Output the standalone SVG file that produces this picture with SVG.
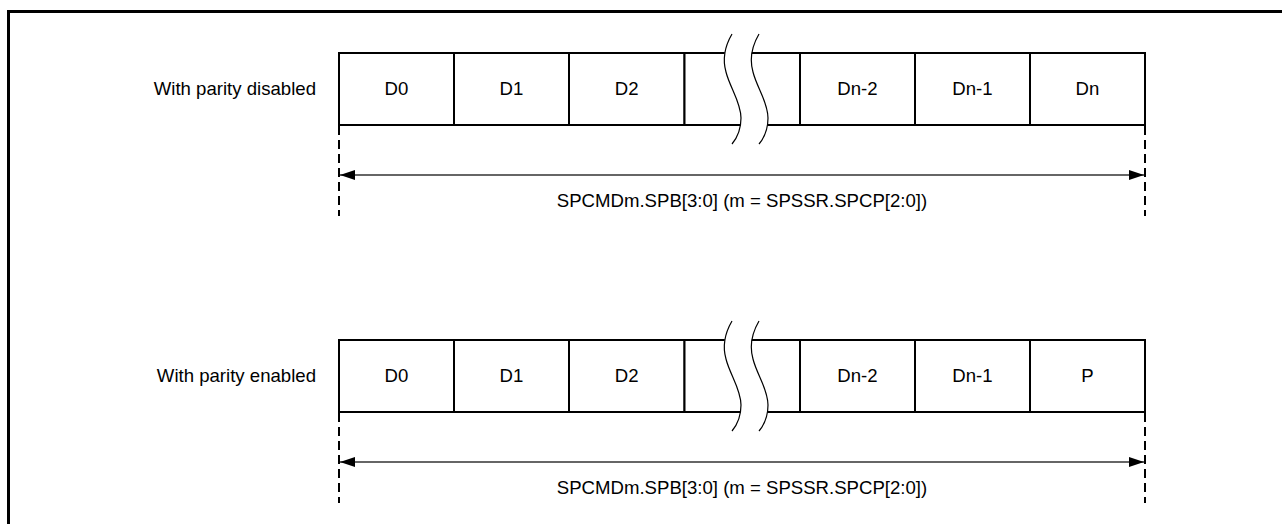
<svg xmlns="http://www.w3.org/2000/svg" width="1282" height="524" viewBox="0 0 1282 524">
<style>
  text { font-family: "Liberation Sans", Arial, sans-serif; font-size: 18.6px; fill: #000; }
  .lbl { text-anchor: end; }
  .c { text-anchor: middle; }
  .cell { fill: #fff; stroke: #000; stroke-width: 2; }
  .wave { fill: none; stroke: #000; stroke-width: 1.2; }
  .gap { fill: #fff; stroke: none; }
  .dash { stroke: #000; stroke-width: 2; stroke-dasharray: 9 5; fill: none; }
  .dim { stroke: #333; stroke-width: 1.3; fill: none; marker-start: url(#ah); marker-end: url(#ah); }
</style>
<defs>
  <marker id="ah" markerUnits="userSpaceOnUse" markerWidth="16" markerHeight="10" refX="15" refY="5" orient="auto-start-reverse">
    <path d="M0,0 L15,5 L0,10 z" fill="#000"/>
  </marker>
</defs>
<rect width="1282" height="524" fill="#fff"/>
<path d="M8.5 524 L8.5 11.5 L1282 11.5" fill="none" stroke="#000" stroke-width="3"/>

<!-- Row 1: parity disabled -->
<g id="row1">
  <text id="row1-label" class="lbl" x="316" y="95">With parity disabled</text>
  <g id="r1-d0"><rect class="cell" x="339" y="53" width="115" height="72"/><text class="c" x="396.5" y="95">D0</text></g>
  <g id="r1-d1"><rect class="cell" x="454" y="53" width="115" height="72"/><text class="c" x="511.5" y="95">D1</text></g>
  <g id="r1-d2"><rect class="cell" x="569" y="53" width="115.5" height="72"/><text class="c" x="626.75" y="95">D2</text></g>
  <g id="r1-mid"><rect class="cell" x="684.5" y="53" width="115.5" height="72"/></g>
  <g id="r1-dn2"><rect class="cell" x="800" y="53" width="115" height="72"/><text class="c" x="857.5" y="95">Dn-2</text></g>
  <g id="r1-dn1"><rect class="cell" x="915" y="53" width="115" height="72"/><text class="c" x="972.5" y="95">Dn-1</text></g>
  <g id="r1-dn"><rect class="cell" x="1030" y="53" width="115" height="72"/><text class="c" x="1087.5" y="95">Dn</text></g>
  <g id="r1-break">
    <path class="gap" d="M732 34 C725 46 722 58 726 72 C730 88 741 102 741 118 C741 130 737 138 732 144 L759 144 C764 138 768 130 768 118 C768 102 757 88 753 72 C749 58 752 46 759 34 Z"/>
    <path class="wave" d="M732 34 C725 46 722 58 726 72 C730 88 741 102 741 118 C741 130 737 138 732 144"/>
    <path class="wave" d="M759 34 C752 46 749 58 753 72 C757 88 768 102 768 118 C768 130 764 138 759 144"/>
  </g>
</g>

<!-- Row 2: parity enabled -->
<g id="row2">
  <text id="row2-label" class="lbl" x="316" y="382">With parity enabled</text>
  <g id="r2-d0"><rect class="cell" x="339" y="340" width="115" height="72"/><text class="c" x="396.5" y="382">D0</text></g>
  <g id="r2-d1"><rect class="cell" x="454" y="340" width="115" height="72"/><text class="c" x="511.5" y="382">D1</text></g>
  <g id="r2-d2"><rect class="cell" x="569" y="340" width="115.5" height="72"/><text class="c" x="626.75" y="382">D2</text></g>
  <g id="r2-mid"><rect class="cell" x="684.5" y="340" width="115.5" height="72"/></g>
  <g id="r2-dn2"><rect class="cell" x="800" y="340" width="115" height="72"/><text class="c" x="857.5" y="382">Dn-2</text></g>
  <g id="r2-dn1"><rect class="cell" x="915" y="340" width="115" height="72"/><text class="c" x="972.5" y="382">Dn-1</text></g>
  <g id="r2-p"><rect class="cell" x="1030" y="340" width="115" height="72"/><text class="c" x="1087.5" y="382">P</text></g>
  <g id="r2-break">
    <path class="gap" d="M732 321 C725 333 722 345 726 359 C730 375 741 389 741 405 C741 417 737 425 732 431 L759 431 C764 425 768 417 768 405 C768 389 757 375 753 359 C749 345 752 333 759 321 Z"/>
    <path class="wave" d="M732 321 C725 333 722 345 726 359 C730 375 741 389 741 405 C741 417 737 425 732 431"/>
    <path class="wave" d="M759 321 C752 333 749 345 753 359 C757 375 768 389 768 405 C768 417 764 425 759 431"/>
  </g>
</g>

<!-- Connectors: dimension lines -->
<g id="connectors">
  <line class="dash" x1="339" y1="126" x2="339" y2="216"/>
  <line class="dash" x1="1145" y1="126" x2="1145" y2="216"/>
  <line class="dim" x1="340" y1="175" x2="1144" y2="175"/>
  <line class="dash" x1="339" y1="413" x2="339" y2="503"/>
  <line class="dash" x1="1145" y1="413" x2="1145" y2="503"/>
  <line class="dim" x1="340" y1="462" x2="1144" y2="462"/>
</g>
<g id="dim-labels">
  <text id="dim1-label" class="c" x="742" y="207">SPCMDm.SPB[3:0] (m = SPSSR.SPCP[2:0])</text>
  <text id="dim2-label" class="c" x="742" y="494">SPCMDm.SPB[3:0] (m = SPSSR.SPCP[2:0])</text>
</g>
</svg>
